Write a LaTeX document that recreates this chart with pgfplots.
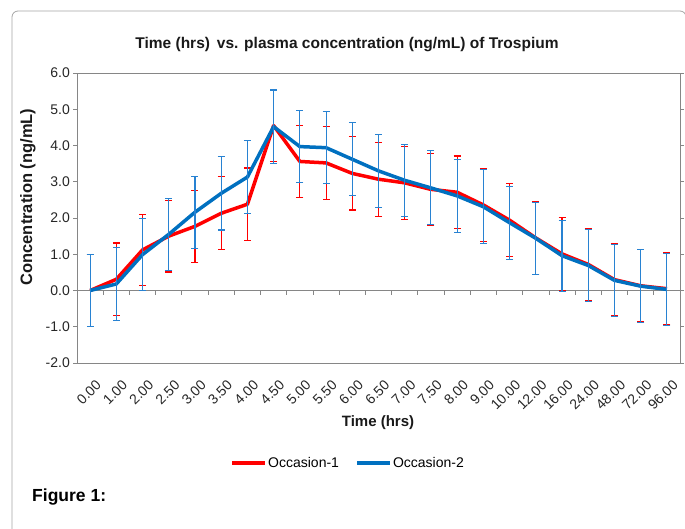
\documentclass[border=0pt]{standalone}
\usepackage{fontspec}
\setmainfont{Liberation Sans}
\usepackage{pgfplots}
\usepackage{pgfplotstable}
\pgfplotsset{compat=1.18}
\definecolor{occred}{RGB}{255,0,0}
\definecolor{occblue}{RGB}{0,112,192}
\definecolor{errblue}{RGB}{40,130,210}
\definecolor{axgray}{RGB}{134,134,134}
\definecolor{framegray}{RGB}{165,165,165}

\pgfplotstableread{
x r rerr b berr
0 0.00 1.00 0.00 1.00
1 0.31 1.00 0.18 1.00
2 1.12 0.98 0.99 1.00
3 1.50 0.99 1.55 1.00
4 1.77 1.00 2.16 0.99
5 2.13 1.01 2.68 1.01
6 2.38 1.00 3.13 1.01
7 4.55 1.00 4.52 1.01
8 3.56 1.00 3.97 0.99
9 3.52 1.01 3.94 1.00
10 3.23 1.01 3.62 1.01
11 3.07 1.02 3.30 1.01
12 2.97 1.00 3.04 1.00
13 2.79 1.00 2.83 1.02
14 2.71 1.00 2.61 1.01
15 2.36 1.01 2.31 1.02
16 1.94 1.00 1.87 1.01
17 1.45 1.00 1.44 1.00
18 1.01 1.00 0.96 0.98
19 0.72 1.00 0.69 1.00
20 0.30 1.00 0.28 1.00
21 0.13 1.00 0.12 1.00
22 0.05 0.99 0.03 1.00
}\datatable

\begin{document}
\begin{tikzpicture}[x=1pt,y=1pt]
\useasboundingbox (0,0) rectangle (685,528);
\draw[framegray, line width=0.8pt, rounded corners=6pt] (12,-10) -- (12,517) -- (686,517) -- (686,-10);
\begin{axis}[
  at={(77pt,165pt)}, anchor=south west,
  scale only axis, width=603pt, height=290pt,
  xmin=-0.5, xmax=22.5, ymin=-2, ymax=6,
  axis line style={axgray, line width=0.8pt},
  xtick={0,...,22},
  xticklabels={0.00,1.00,2.00,2.50,3.00,3.50,4.00,4.50,5.00,5.50,6.00,6.50,7.00,7.50,8.00,9.00,10.00,12.00,16.00,24.00,48.00,72.00,96.00},
  xtick style={draw=none},
  ytick={-2,-1,0,1,2,3,4,5,6},
  yticklabels={-2.0,-1.0,0.0,1.0,2.0,3.0,4.0,5.0,6.0},
  tick align=outside, major tick length=4pt,
  ytick style={axgray, line width=0.8pt},
  yticklabel style={font=\fontsize{14}{16}\selectfont, text=black!85, inner sep=1pt, xshift=-2pt},
  xticklabel style={font=\fontsize{14}{16}\selectfont, text=black!85, rotate=45, anchor=north east, inner sep=1pt, yshift=-11pt, xshift=-4pt},
  legend style={at={(0.4486,-0.3448)}, anchor=center, draw=none, fill=none,
     legend columns=2, font=\fontsize{14}{16}\selectfont, inner sep=0pt,
     nodes={inner sep=1pt},
     /tikz/every even column/.append style={column sep=15pt}},
  legend image code/.code={\draw[#1, line width=4pt] (0pt,0pt) -- (33pt,0pt);},
  clip=false,
]
\draw[axgray, line width=0.8pt] (axis cs:-0.5,0) -- (axis cs:22.5,0);
\pgfplotsinvokeforeach{0.5,1.5,2.5,3.5,4.5,5.5,6.5,7.5,8.5,9.5,10.5,11.5,12.5,13.5,14.5,15.5,16.5,17.5,18.5,19.5,20.5,21.5}{
  \draw[axgray, line width=0.8pt] (axis cs:#1,0) -- ([yshift=-4pt]axis cs:#1,0);
}
\addplot[occred, line width=3.5pt, line join=round,
  error bars/.cd, y dir=both, y explicit,
  error bar style={draw=occred, line width=1.1pt},
  error mark options={draw=occred, line width=1.1pt, mark size=3.5pt, rotate=90}]
  table[x=x, y=r, y error=rerr]{\datatable};
\addlegendentry{Occasion-1}
\addplot[occblue, line width=3.5pt, line join=round,
  error bars/.cd, y dir=both, y explicit,
  error bar style={draw=errblue, line width=1.1pt},
  error mark options={draw=errblue, line width=1.1pt, mark size=3.5pt, rotate=90}]
  table[x=x, y=b, y error=berr]{\datatable};
\addlegendentry{Occasion-2}
\end{axis}
\node[font=\fontsize{15.5}{18}\selectfont\bfseries, text=black!90] at (347,483) {Time (hrs) \,vs. plasma concentration (ng/mL) of Trospium};
\node[font=\fontsize{16.5}{19}\selectfont\bfseries, text=black!90, rotate=90] at (28,331) {Concentration (ng/mL)};
\node[font=\fontsize{15}{18}\selectfont\bfseries, text=black!90] at (378,105) {Time (hrs)};
\node[font=\fontsize{17.5}{20}\selectfont\bfseries, anchor=west, inner sep=0pt] at (32,31) {Figure 1:};
\end{tikzpicture}
\end{document}
